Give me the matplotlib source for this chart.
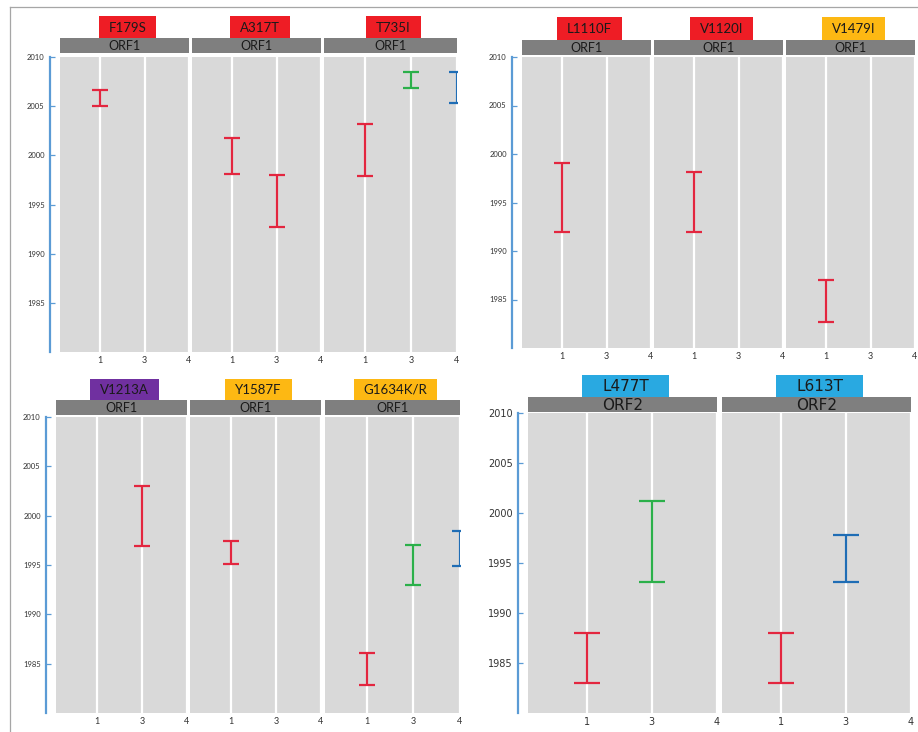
import matplotlib
matplotlib.use("Agg")
import matplotlib.pyplot as plt
from matplotlib.patches import Rectangle
from matplotlib.lines import Line2D

W, H = 918, 732

# x categories and bar colours
categories = ["1", "3", "4"]
BAR_RED, BAR_GREEN, BAR_BLUE = "#E3263F", "#2BB04A", "#1F6DB5"
years = [1985, 1990, 1995, 2000, 2005, 2010]

RED, YELLOW, PURPLE, CYAN = "#EE1D25", "#FDB813", "#7030A0", "#29A9E1"

# top left block: (category, low, high, colour)
tl_mutations = ["F179S", "A317T", "T735I"]
tl_label_colors = [RED, RED, RED]
tl_genes = ["ORF1", "ORF1", "ORF1"]
tl_intervals = [
    [("1", 2005.0, 2006.6, BAR_RED)],
    [("1", 1998.1, 2001.8, BAR_RED), ("3", 1992.7, 1998.0, BAR_RED)],
    [("1", 1997.9, 2003.2, BAR_RED), ("3", 2006.8, 2008.5, BAR_GREEN),
     ("4", 2005.3, 2008.5, BAR_BLUE)],
]

# top right block
tr_mutations = ["L1110F", "V1120I", "V1479I"]
tr_label_colors = [RED, RED, YELLOW]
tr_genes = ["ORF1", "ORF1", "ORF1"]
tr_intervals = [
    [("1", 1992.0, 1999.1, BAR_RED)],
    [("1", 1992.0, 1998.1, BAR_RED)],
    [("1", 1982.7, 1987.0, BAR_RED)],
]

# bottom left block
bl_mutations = ["V1213A", "Y1587F", "G1634K/R"]
bl_label_colors = [PURPLE, YELLOW, YELLOW]
bl_genes = ["ORF1", "ORF1", "ORF1"]
bl_intervals = [
    [("3", 1996.9, 2003.0, BAR_RED)],
    [("1", 1995.1, 1997.4, BAR_RED)],
    [("1", 1982.8, 1986.1, BAR_RED), ("3", 1993.0, 1997.0, BAR_GREEN),
     ("4", 1994.9, 1998.4, BAR_BLUE)],
]

# bottom right block
br_mutations = ["L477T", "L613T"]
br_label_colors = [CYAN, CYAN]
br_genes = ["ORF2", "ORF2"]
br_intervals = [
    [("1", 1983.0, 1988.0, BAR_RED), ("3", 1993.1, 2001.2, BAR_GREEN)],
    [("1", 1983.0, 1988.0, BAR_RED), ("3", 1993.1, 1997.8, BAR_BLUE)],
]


def fx(x):
    return x / W


def fy(y):
    return 1 - y / H


fig = plt.figure(figsize=(W / 100, H / 100), dpi=100)
renderer = fig.canvas.get_renderer()

# thin frame round the figure
fig.add_artist(Line2D([fx(10), fx(917)], [fy(7), fy(7)], color="#A6A6A6", lw=0.9))
fig.add_artist(Line2D([fx(10), fx(10)], [fy(7), fy(732)], color="#A6A6A6", lw=0.9))


def draw_block(mutations, label_colors, genes, intervals, panels_x, panel_y,
               strip_y, label_y, font, label_fs, strip_fs, ytick_fs, xtick_fs,
               capsize, label_pad):
    for i, (x0, x1) in enumerate(panels_x):
        ax = fig.add_axes([fx(x0), fy(panel_y[1]), (x1 - x0) / W,
                           (panel_y[1] - panel_y[0]) / H])
        ax.set_facecolor("#D9D9D9")
        ax.set_xlim(0.1, 3.0)
        ax.set_ylim(1980, 2010)
        ax.set_xticks([1, 2, 3])
        ax.set_xticklabels(categories, fontsize=xtick_fs, family=font, color="#333333")
        ax.tick_params(axis="x", length=0, pad=3)
        ax.grid(axis="x", color="white", lw=1.6)
        ax.set_axisbelow(True)
        for s in ["top", "right", "bottom"]:
            ax.spines[s].set_visible(False)
        if i == 0:
            sp = ax.spines["left"]
            sp.set_position(("outward", 7))
            sp.set_color("#5B9BD5")
            sp.set_linewidth(1.6)
            ax.set_yticks(years)
            ax.set_yticklabels([str(y) for y in years], fontsize=ytick_fs,
                               family=font, color="#333333")
            ax.tick_params(axis="y", direction="in", length=3.5, width=0.9,
                           color="#5B9BD5", pad=4)
        else:
            ax.spines["left"].set_visible(False)
            ax.set_yticks(years)
            ax.tick_params(axis="y", length=0, labelleft=False)

        for cat, lo, hi, col in intervals[i]:
            xpos = categories.index(cat) + 1
            ax.errorbar([xpos], [(lo + hi) / 2], yerr=[(hi - lo) / 2], fmt="none",
                        ecolor=col, elinewidth=1.6, capsize=capsize, capthick=1.6)

        # gene strip
        fig.add_artist(Rectangle((fx(x0), fy(strip_y[1])), (x1 - x0) / W,
                                 (strip_y[1] - strip_y[0]) / H,
                                 transform=fig.transFigure, facecolor="#7F7F7F",
                                 edgecolor="none"))
        fig.text(fx((x0 + x1) / 2), fy((strip_y[0] + strip_y[1]) / 2 + 0.5), genes[i],
                 ha="center", va="center", fontsize=strip_fs, family=font,
                 color="#1A1A1A")

        # mutation label box
        cx = (x0 + x1) / 2 + 3
        cy = (label_y[0] + label_y[1]) / 2
        t = fig.text(fx(cx), fy(cy + 0.5), mutations[i], ha="center", va="center",
                     fontsize=label_fs, family=font, color="#1A1A1A", zorder=3)
        bb = t.get_window_extent(renderer=renderer)
        bw = bb.width + 2 * label_pad
        fig.add_artist(Rectangle((fx(cx - bw / 2), fy(label_y[1])), bw / W,
                                 (label_y[1] - label_y[0]) / H,
                                 transform=fig.transFigure,
                                 facecolor=label_colors[i], edgecolor="none",
                                 zorder=2))


lato = ["Lato", "DejaVu Sans"]
draw_block(tl_mutations, tl_label_colors, tl_genes, tl_intervals,
           [(60, 189), (192, 321), (324, 457)], (57, 352), (38, 53), (16, 38),
           lato, 9.5, 9, 5.5, 6.5, 6, 10)
draw_block(tr_mutations, tr_label_colors, tr_genes, tr_intervals,
           [(522, 651), (654, 783), (786, 915)], (57, 348), (40, 55), (17, 40),
           lato, 9.5, 9, 5.5, 6.5, 6, 10)
draw_block(bl_mutations, bl_label_colors, bl_genes, bl_intervals,
           [(56, 187), (190, 321), (325, 460)], (417, 713), (400, 415), (379, 400),
           lato, 9.5, 9, 5.5, 6.5, 6, 10)
draw_block(br_mutations, br_label_colors, br_genes, br_intervals,
           [(528, 717), (722, 911)], (413, 713), (397, 412), (375, 397),
           ["DejaVu Sans"], 11, 11, 7, 7, 9.5, 20)

fig.savefig("out.png", dpi=100)
